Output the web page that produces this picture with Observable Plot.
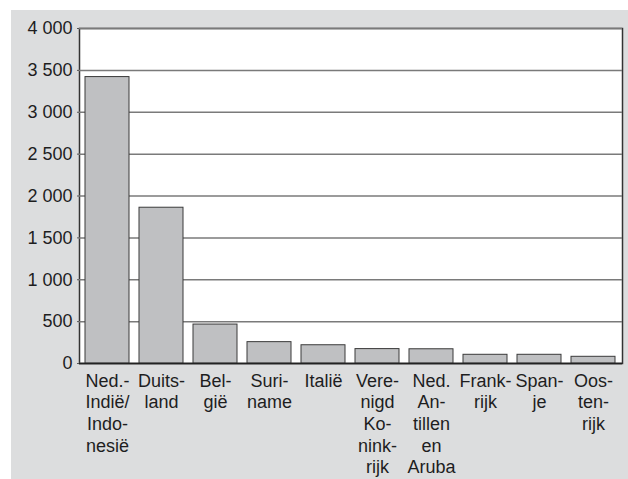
<!DOCTYPE html>
<html>
<head>
<meta charset="utf-8">
<script src="https://cdn.jsdelivr.net/npm/d3@7"></script>
<script src="https://cdn.jsdelivr.net/npm/@observablehq/plot@0.6"></script>
<style>
  html, body { margin: 0; padding: 0; background: #ffffff; }
  #wrap { position: absolute; left: 11px; top: 10px; width: 617px; height: 469px; background: #dcddde; }
  #wrap svg { display: block; }
</style>
</head>
<body>
<div id="wrap"></div>
<script>
const categories = [
  "Ned.-\nIndië/\nIndo-\nnesië",
  "Duits-\nland",
  "Bel-\ngië",
  "Suri-\nname",
  "Italië",
  "Vere-\nnigd\nKo-\nnink-\nrijk",
  "Ned.\nAn-\ntillen\nen\nAruba",
  "Frank-\nrijk",
  "Span-\nje",
  "Oos-\nten-\nrijk"
];
const values = [3420, 1860, 465, 255, 218, 172, 170, 104, 104, 80];
const yTicks = [0, 500, 1000, 1500, 2000, 2500, 3000, 3500, 4000];

const data = categories.map((c, i) => ({ category: c, value: values[i] }));
const fmt = d => d3.format(",")(d).replace(/,/g, " ");

const chart = Plot.plot({
  width: 617,
  height: 469,
  marginLeft: 68,
  marginTop: 18,
  marginRight: 6,
  marginBottom: 116,
  style: { background: "transparent", fontFamily: "'Liberation Sans', Arial, sans-serif", fontSize: "18px", color: "#1e1e1e" },
  x: { domain: categories, paddingInner: 0.184, paddingOuter: 0.092, label: null },
  y: { domain: [0, 4000], label: null },
  marks: [
    Plot.frame({ fill: "white", stroke: "#333", strokeWidth: 1.5 }),
    Plot.gridY(yTicks, { stroke: "#7a7a7a", strokeWidth: 1.5, strokeOpacity: 1 }),
    Plot.barY(data, { x: "category", y: "value", fill: "#bfc0c2", stroke: "#3a3a3a", strokeWidth: 1 }),
    Plot.ruleY([0], { stroke: "#222", strokeWidth: 1.5 }),
    Plot.axisY(yTicks, { tickFormat: fmt, tickSize: 2, tickPadding: 5, fontSize: 18, stroke: "#555", fill: "#1e1e1e" }),
    Plot.axisX({ tickSize: 0, tickPadding: 8, fontSize: 18, lineHeight: 1.2, fill: "#1e1e1e", textAnchor: "middle" })
  ]
});
document.getElementById("wrap").appendChild(chart);
</script>
</body>
</html>
